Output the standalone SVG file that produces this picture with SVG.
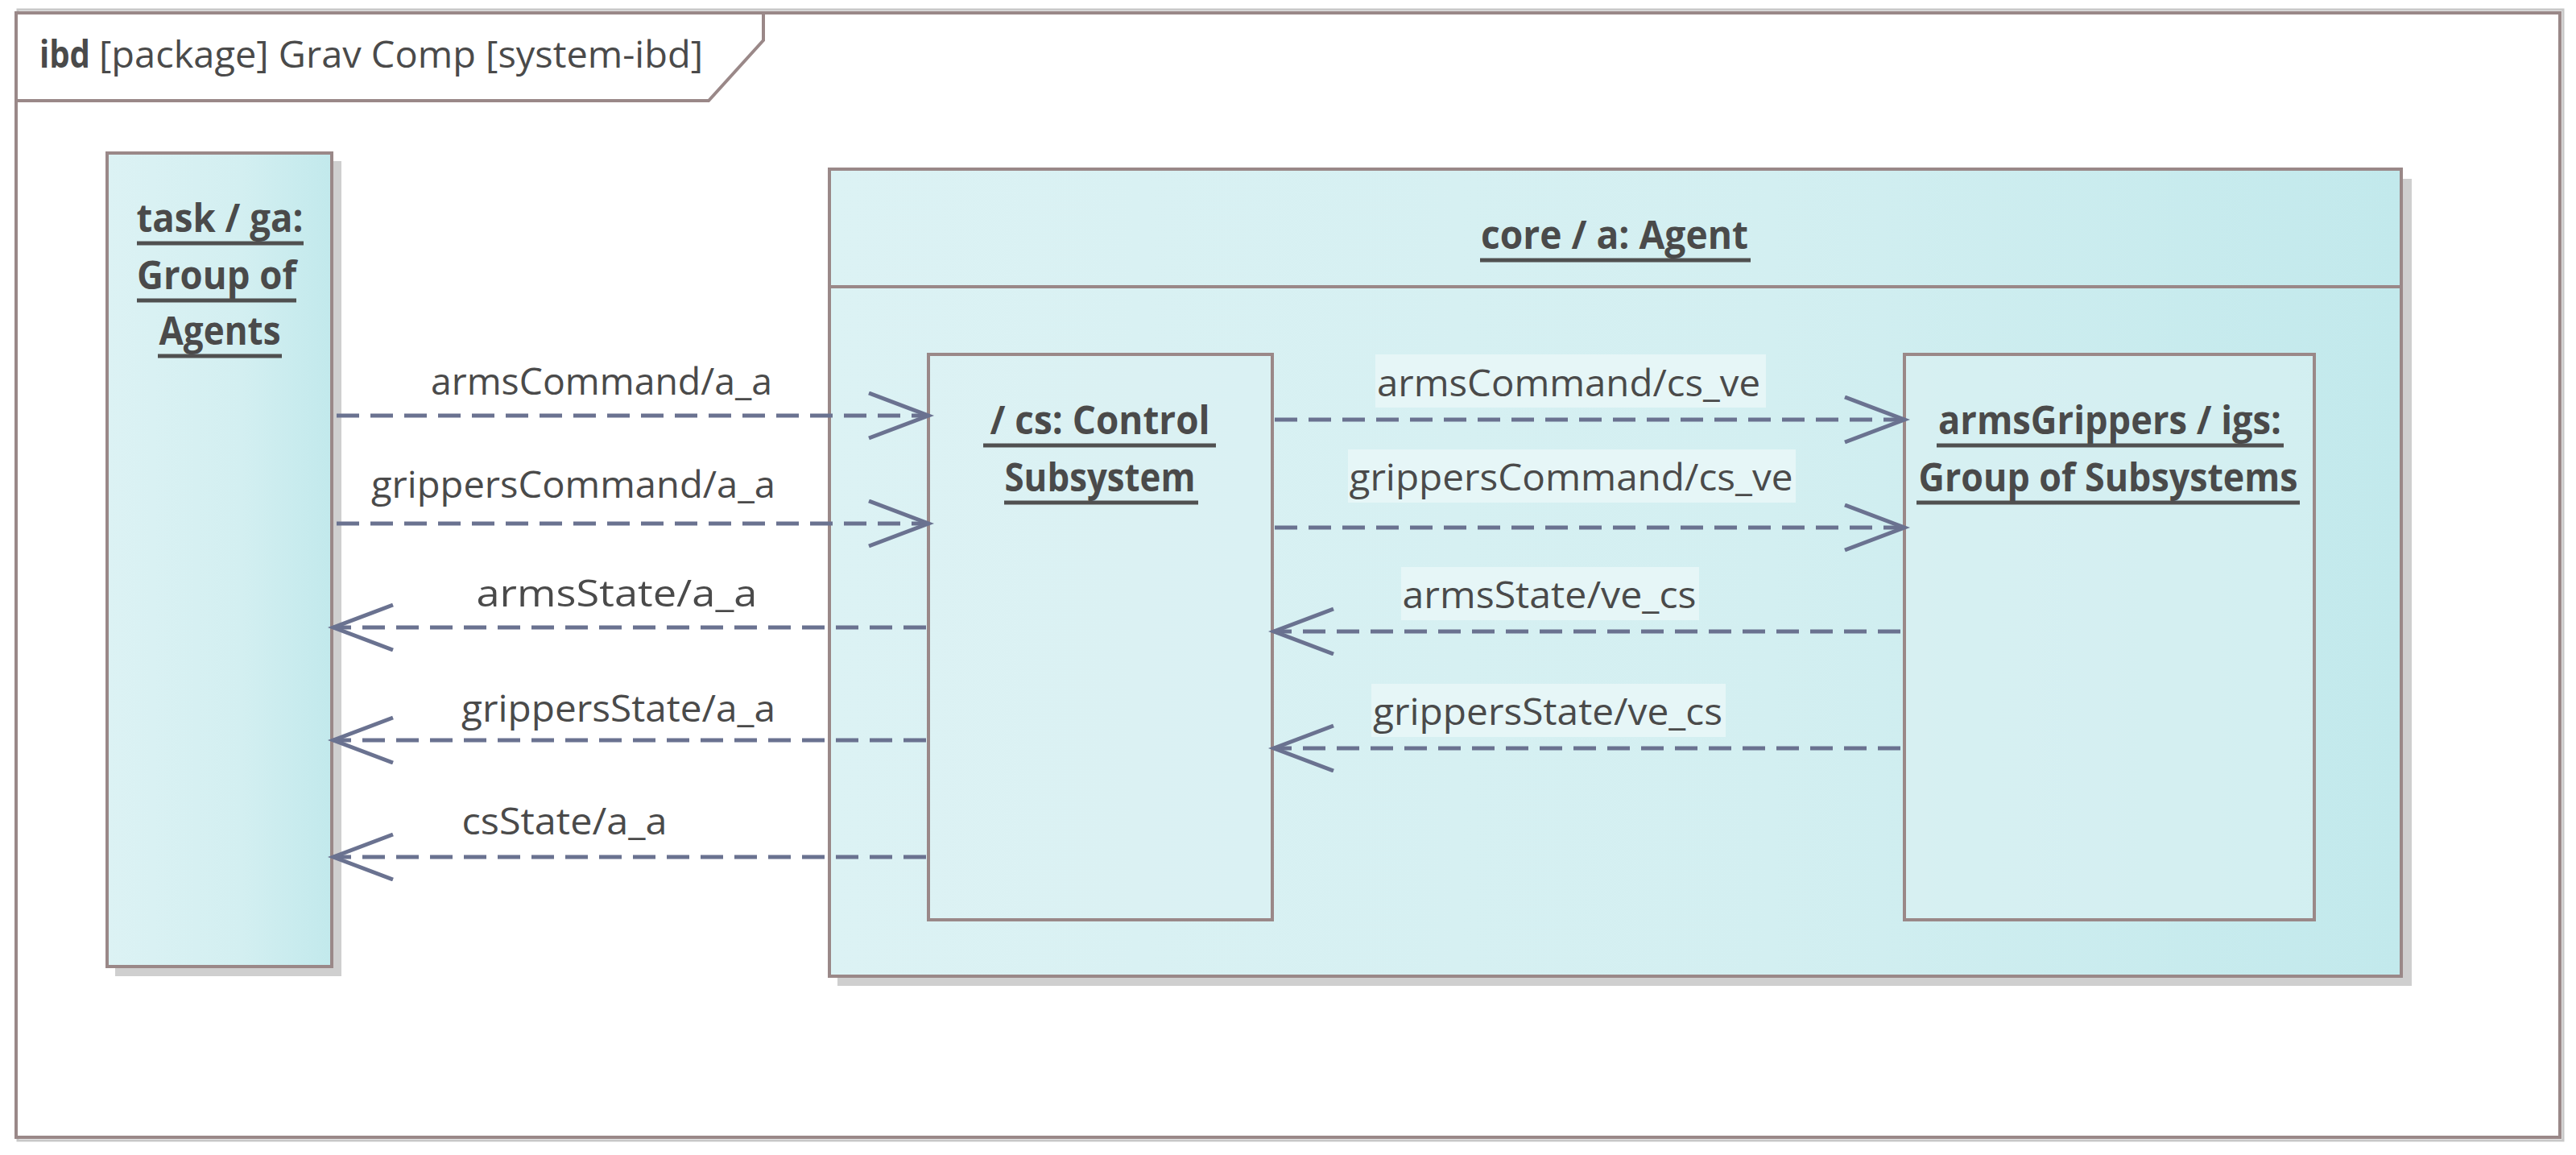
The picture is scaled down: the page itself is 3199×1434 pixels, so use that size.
<svg xmlns="http://www.w3.org/2000/svg" width="3199" height="1434" viewBox="0 0 3199 1434">
<defs>
<linearGradient id="g" x1="0" y1="0" x2="1" y2="0"><stop offset="0" stop-color="#dcf2f4"/><stop offset="0.6" stop-color="#d3eff1"/><stop offset="1" stop-color="#c2e9ec"/></linearGradient>
<marker id="ah" markerUnits="userSpaceOnUse" markerWidth="90" markerHeight="70" refX="76" refY="30" orient="auto"><path d="M2,2 L76,30 L2,58" fill="none" stroke="#6a7290" stroke-width="5"/></marker>
<style>
.box{stroke:#9a8888;stroke-width:4;fill:url(#g)}
.inner{stroke:#9a8888;stroke-width:4;fill:#dcf2f4}
.sh{fill:#cfcfcf}
.t{font-family:"Open Sans","Liberation Sans",sans-serif;fill:#4a4a4a}
.b{font-weight:bold;font-size:48px;text-anchor:middle}
.l{font-size:45px;text-anchor:middle}
.ul{stroke:#505050;stroke-width:5}
.c{fill:none;stroke:#6a7290;stroke-width:5;stroke-dasharray:28 14;marker-end:url(#ah)}
.lb{fill:#e6f6f7}
</style>
</defs>
<rect x="0" y="0" width="3199" height="1434" fill="#fff"/>
<g id="frame">
<rect x="22" y="12" width="3161" height="1404" fill="none" stroke="#c8c8c8" stroke-width="3"/>
<rect x="20" y="16" width="3159" height="1396" fill="#fff" stroke="#9a8888" stroke-width="4"/>
<path d="M20,125 L880,125 L948,50 L948,16" fill="none" stroke="#9a8888" stroke-width="4"/>
<text class="t" x="49" y="84" font-size="46" font-weight="bold" textLength="63" lengthAdjust="spacingAndGlyphs">ibd</text>
<text class="t" x="123" y="84" font-size="46" textLength="750" lengthAdjust="spacingAndGlyphs">[package] Grav Comp [system-ibd]</text>
</g>
<g id="task">
<rect class="sh" x="143" y="200" width="281" height="1012"/>
<rect class="box" x="133" y="190" width="279" height="1010"/>
<text class="t b" x="273" y="288" textLength="207" lengthAdjust="spacingAndGlyphs">task / ga:</text>
<line class="ul" x1="170" y1="302" x2="377" y2="302"/>
<text class="t b" x="269" y="359" textLength="198" lengthAdjust="spacingAndGlyphs">Group of</text>
<line class="ul" x1="170" y1="373" x2="368" y2="373"/>
<text class="t b" x="273" y="428" textLength="151" lengthAdjust="spacingAndGlyphs">Agents</text>
<line class="ul" x1="196" y1="442" x2="350" y2="442"/>
</g>
<g id="agent">
<rect class="sh" x="1040" y="222" width="1955" height="1002"/>
<rect class="box" x="1030" y="210" width="1952" height="1002"/>
<line x1="1030" y1="356" x2="2982" y2="356" stroke="#9a8888" stroke-width="4"/>
<text class="t b" x="2005" y="309" textLength="332" lengthAdjust="spacingAndGlyphs">core / a: Agent</text>
<line class="ul" x1="1838" y1="323" x2="2174" y2="323"/>
</g>
<g id="cs">
<rect class="inner" x="1153" y="440" width="427" height="702" fill-opacity="0.6"/>
<text class="t b" x="1366" y="539" textLength="273" lengthAdjust="spacingAndGlyphs">/ cs: Control</text>
<line class="ul" x1="1221" y1="553" x2="1510" y2="553"/>
<text class="t b" x="1366" y="610" textLength="237" lengthAdjust="spacingAndGlyphs">Subsystem</text>
<line class="ul" x1="1247" y1="624" x2="1488" y2="624"/>
</g>
<g id="igs">
<rect class="inner" x="2365" y="440" width="509" height="702" fill-opacity="0.6"/>
<text class="t b" x="2620" y="539" textLength="426" lengthAdjust="spacingAndGlyphs">armsGrippers / igs:</text>
<line class="ul" x1="2405" y1="553" x2="2836" y2="553"/>
<text class="t b" x="2618" y="610" textLength="471" lengthAdjust="spacingAndGlyphs">Group of Subsystems</text>
<line class="ul" x1="2380" y1="624" x2="2856" y2="624"/>
</g>
<g id="connectors">
<line class="c" x1="418" y1="516" x2="1153" y2="516"/>
<line class="c" x1="418" y1="650" x2="1153" y2="650"/>
<line class="c" x1="1150" y1="779" x2="414" y2="779"/>
<line class="c" x1="1150" y1="919" x2="414" y2="919"/>
<line class="c" x1="1150" y1="1064" x2="414" y2="1064"/>
<line class="c" x1="1583" y1="521" x2="2365" y2="521"/>
<line class="c" x1="1583" y1="655" x2="2365" y2="655"/>
<line class="c" x1="2360" y1="784" x2="1582" y2="784"/>
<line class="c" x1="2360" y1="929" x2="1582" y2="929"/>
<text class="t l" x="747" y="490" textLength="424" lengthAdjust="spacingAndGlyphs">armsCommand/a_a</text>
<text class="t l" x="712" y="618" textLength="502" lengthAdjust="spacingAndGlyphs">grippersCommand/a_a</text>
<text class="t l" x="766" y="753" textLength="349" lengthAdjust="spacingAndGlyphs">armsState/a_a</text>
<text class="t l" x="768" y="896" textLength="390" lengthAdjust="spacingAndGlyphs">grippersState/a_a</text>
<text class="t l" x="701" y="1036" textLength="255" lengthAdjust="spacingAndGlyphs">csState/a_a</text>
<rect class="lb" x="1708" y="440" width="485" height="66"/>
<text class="t l" x="1948" y="492" textLength="476" lengthAdjust="spacingAndGlyphs">armsCommand/cs_ve</text>
<rect class="lb" x="1674" y="558" width="556" height="66"/>
<text class="t l" x="1951" y="609" textLength="551" lengthAdjust="spacingAndGlyphs">grippersCommand/cs_ve</text>
<rect class="lb" x="1740" y="704" width="370" height="66"/>
<text class="t l" x="1924" y="755" textLength="365" lengthAdjust="spacingAndGlyphs">armsState/ve_cs</text>
<rect class="lb" x="1703" y="849" width="440" height="66"/>
<text class="t l" x="1922" y="900" textLength="434" lengthAdjust="spacingAndGlyphs">grippersState/ve_cs</text>
</g>
</svg>
